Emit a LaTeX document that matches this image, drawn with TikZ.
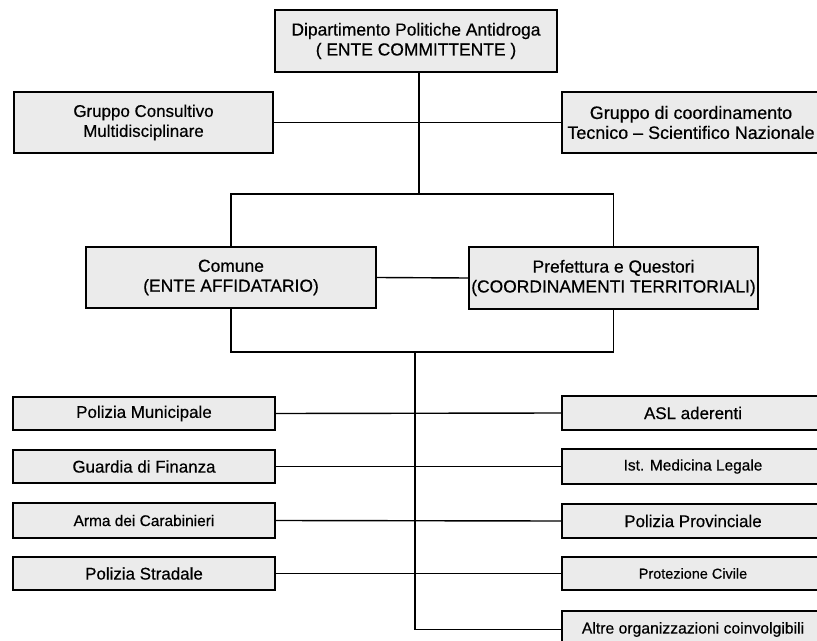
\documentclass[tikz,border=0pt]{standalone}
\usepackage{fontspec}
\setmainfont[FakeBold=0.5]{Liberation Sans}
\begin{document}
\begin{tikzpicture}[x=1bp,y=-1bp,
  box/.style={draw=black, line width=1.7bp, fill=black!8, inner sep=0pt, align=center,
              font=\fontsize{17}{20}\selectfont, text=black},
  link/.style={draw=black, line width=1.4bp}]
\useasboundingbox (0,0) rectangle (817,641);
\clip (0,0) rectangle (817,641);
% top level
\node[box, minimum width=282bp, minimum height=62bp, font=\fontsize{17.5}{20}\selectfont] (top) at (416,41)
  {Dipartimento Politiche Antidroga\\( ENTE COMMITTENTE )};
\node[box, minimum width=259bp, minimum height=61bp] (cons) at (143.5,122.5)
  {Gruppo Consultivo\\Multidisciplinare};
\node[box, minimum width=258bp, minimum height=61bp, font=\fontsize{18}{20}\selectfont] (grp) at (691,122.5)
  {Gruppo di coordinamento\\Tecnico -- Scientifico Nazionale};
% middle level
\node[box, minimum width=290bp, minimum height=61bp, font=\fontsize{17.5}{20}\selectfont] (comune) at (231,277.5)
  {Comune\\(ENTE AFFIDATARIO)};
\node[box, minimum width=289bp, minimum height=62bp, font=\fontsize{17.5}{20}\selectfont] (pref) at (613.5,278)
  {Prefettura e Questori\\(COORDINAMENTI TERRITORIALI)};
% left column
\node[box, minimum width=262bp, minimum height=33bp] (pm) at (144,413.5) {Polizia Municipale};
\node[box, minimum width=262bp, minimum height=33bp] (gdf) at (144,466.5) {Guardia di Finanza};
\node[box, minimum width=262bp, minimum height=35bp, font=\fontsize{15.5}{18}\selectfont] (arma) at (144,520.5) {Arma dei Carabinieri};
\node[box, minimum width=262bp, minimum height=33bp] (ps) at (144,573.5) {Polizia Stradale};
% right column
\node[box, minimum width=262bp, minimum height=34bp] (asl) at (693,413) {ASL aderenti};
\node[box, minimum width=262bp, minimum height=35bp, font=\fontsize{15.5}{18}\selectfont] (ist) at (693,466.5) {Ist. Medicina Legale};
\node[box, minimum width=262bp, minimum height=34bp] (pp) at (693,521) {Polizia Provinciale};
\node[box, minimum width=262bp, minimum height=33bp, font=\fontsize{14.5}{17}\selectfont] (pc) at (693,573.5) {Protezione Civile};
\node[box, minimum width=262bp, minimum height=37bp, font=\fontsize{15.8}{18}\selectfont] (altre) at (693,629.5) {Altre organizzazioni coinvolgibili};
% hubs
\coordinate (hubA) at (419,194);
\coordinate (hubB) at (415,352);
% connectors
\draw[link] (top.south -| hubA) -- (hubA);
\draw[link] (cons.east) -- (grp.west);
\draw[link] (comune.north) |- (hubA) -| (pref.north);
\draw[link] (comune.east) -- (pref.west);
\draw[link] (comune.south) |- (hubB) -| (pref.south);
\draw[link] (hubB) |- (altre.west);
\draw[link] (pm.east) -- (asl.west);
\draw[link] (gdf.east) -- (ist.west);
\draw[link] (arma.east) -- (pp.west);
\draw[link] (ps.east) -- (pc.west);
\end{tikzpicture}
\end{document}
